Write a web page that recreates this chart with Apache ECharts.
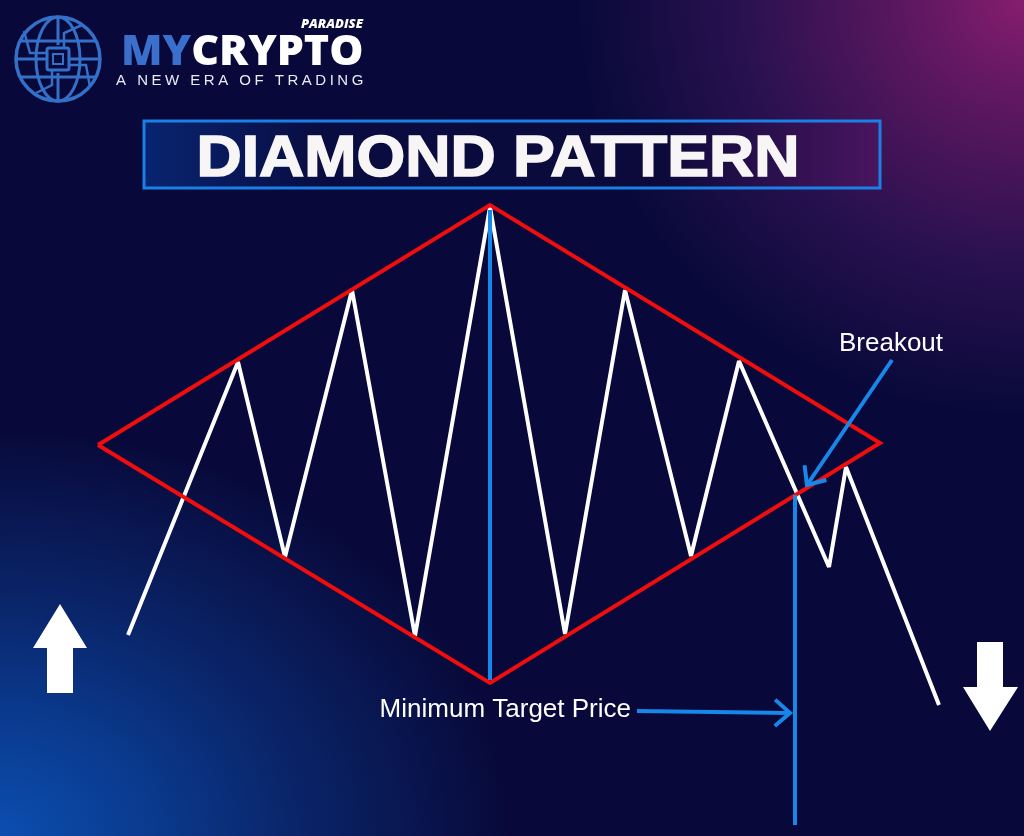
<!DOCTYPE html>
<html>
<head>
<meta charset="utf-8">
<script src="https://cdn.jsdelivr.net/npm/echarts@6/dist/echarts.min.js"></script>
<style>
html,body{margin:0;padding:0;}
body{width:1024px;height:836px;overflow:hidden;
background:
 radial-gradient(ellipse 560px 520px at 100% 0%, #861d6e 0%, #5a175f 22%, #2a1150 50%, rgba(10,10,52,0) 80%),
 radial-gradient(ellipse 600px 480px at 0% 100%, #0b4eb0 0%, #0a3a8e 25%, #0a2468 50%, rgba(8,10,58,0) 85%),
 #08093a;}
#chart{width:1024px;height:836px;}
</style>
</head>
<body>
<div id="chart"></div>
<script>
// ---- data (chart units: x = time, y = price) ----
const priceX = [128, 238, 285, 352, 415, 490, 565, 625, 691, 739, 829, 846, 939];
const priceY = [201, 474, 279, 546, 200, 629, 202, 546, 280, 475, 269, 369, 131];
const diamondX = [98, 490, 880, 490, 98];
const diamondY = [391, 631, 393, 153, 391];
const heightX = [490, 490];
const heightY = [626, 156];
const targetX = [795, 795];
const targetY = [341, 11];
const arrowLabels = ['Breakout', 'Minimum Target Price'];
const arrowFromX = [892, 637];
const arrowFromY = [476, 125];
const arrowToX = [807, 790];
const arrowToY = [351, 123];
const titleText = 'DIAMOND PATTERN';

const zip = (xs, ys) => xs.map((x, i) => [x, ys[i]]);
const arrowData = arrowLabels.map((n, i) => [arrowFromX[i], arrowFromY[i], arrowToX[i], arrowToY[i], n]);

const RED = '#f00d0d', BLUE = '#1787ea', WHITE = '#ffffff';

const chart = echarts.init(document.getElementById('chart'), null, {renderer: 'canvas'});

// tagline letter-spaced via measured characters
const ctx = document.createElement('canvas').getContext('2d');
const tagFont = '15px "Liberation Sans", Arial, sans-serif';
ctx.font = tagFont;
const tagline = 'A NEW ERA OF TRADING';
const tagEls = [];
let tx = 116;
for (const ch of tagline) {
  if (ch !== ' ') tagEls.push({type: 'text', x: tx, y: 73, style: {text: ch, font: tagFont, fill: '#e8ecf5'}, silent: true});
  tx += ctx.measureText(ch).width + 3.5;
}

// globe logo
const gcx = 58, gcy = 59, gr = 42;
const GC = '#3470c8';
const globe = [
  {type: 'circle', shape: {cx: gcx, cy: gcy, r: gr}, style: {fill: 'none', stroke: GC, lineWidth: 3.5}},
  {type: 'ellipse', shape: {cx: gcx, cy: gcy, rx: 22, ry: gr}, style: {fill: 'none', stroke: GC, lineWidth: 3}},
  {type: 'line', shape: {x1: gcx, y1: gcy - gr, x2: gcx, y2: gcy - 14}, style: {stroke: GC, lineWidth: 3}},
  {type: 'line', shape: {x1: gcx, y1: gcy + 14, x2: gcx, y2: gcy + gr}, style: {stroke: GC, lineWidth: 3}},
  {type: 'line', shape: {x1: gcx - 38, y1: gcy - 18, x2: gcx + 38, y2: gcy - 18}, style: {stroke: GC, lineWidth: 3}},
  {type: 'line', shape: {x1: gcx - 38, y1: gcy + 18, x2: gcx + 38, y2: gcy + 18}, style: {stroke: GC, lineWidth: 3}},
  {type: 'line', shape: {x1: gcx - gr, y1: gcy, x2: gcx - 12, y2: gcy}, style: {stroke: GC, lineWidth: 3}},
  {type: 'line', shape: {x1: gcx + 12, y1: gcy, x2: gcx + gr, y2: gcy}, style: {stroke: GC, lineWidth: 3}},
  {type: 'rect', shape: {x: gcx - 11, y: gcy - 11, width: 22, height: 22, r: 2}, style: {fill: '#0a0b3c', stroke: GC, lineWidth: 3}},
  {type: 'rect', shape: {x: gcx - 5, y: gcy - 5, width: 10, height: 10}, style: {fill: 'none', stroke: GC, lineWidth: 2}},
  {type: 'polyline', shape: {points: [[gcx - 11, gcy - 6], [gcx - 28, gcy - 6], [gcx - 34, gcy - 28]]}, style: {fill: 'none', stroke: GC, lineWidth: 2.5}},
  {type: 'polyline', shape: {points: [[gcx + 11, gcy + 6], [gcx + 28, gcy + 6], [gcx + 32, gcy + 28]]}, style: {fill: 'none', stroke: GC, lineWidth: 2.5}},
  {type: 'polyline', shape: {points: [[gcx + 6, gcy - 11], [gcx + 6, gcy - 26], [gcx + 24, gcy - 34]]}, style: {fill: 'none', stroke: GC, lineWidth: 2.5}},
  {type: 'polyline', shape: {points: [[gcx - 6, gcy + 11], [gcx - 6, gcy + 26], [gcx - 22, gcy + 34]]}, style: {fill: 'none', stroke: GC, lineWidth: 2.5}}
];

const titleFill = new echarts.graphic.LinearGradient(0, 0, 1, 0, [
  {offset: 0, color: '#082470'}, {offset: 0.25, color: '#090c40'}, {offset: 0.7, color: '#0b0a3a'}, {offset: 1, color: '#4a1560'}
]);

const logoFont = '800 43px "Open Sans", "Liberation Sans", sans-serif';
ctx.font = logoFont;
const myW = ctx.measureText('MY').width;

const option = {
  backgroundColor: 'transparent',
  animation: false,
  grid: {left: 0, right: 0, top: 0, bottom: 0},
  xAxis: {type: 'value', min: 0, max: 1024, show: false},
  yAxis: {type: 'value', min: 0, max: 836, show: false},
  graphic: [
    {type: 'group', children: globe, silent: true},
    {type: 'text', x: 121, y: 31, style: {text: 'MY', font: logoFont, fill: '#3a6fcb'}},
    {type: 'text', x: 121 + myW, y: 31, style: {text: 'CRYPTO', font: logoFont, fill: '#ffffff'}},
    {type: 'text', x: 363, y: 18, style: {text: 'PARADISE', font: 'italic 800 13px "Open Sans", "Liberation Sans", sans-serif', fill: '#ffffff', align: 'right'}},
    {type: 'group', children: tagEls, silent: true},
    {type: 'rect', shape: {x: 144, y: 121, width: 736, height: 67}, style: {fill: titleFill, stroke: '#1a80e6', lineWidth: 3}},
    {type: 'text', x: 498, y: 160, scaleX: 1.08, originX: 0, originY: 0,
      style: {text: titleText, font: 'bold 58px "Liberation Sans", Arial, sans-serif', fill: '#f7f5f6', stroke: '#f7f5f6', lineWidth: 1.5, align: 'center', verticalAlign: 'middle'}},
    // big up arrow
    {type: 'polygon', shape: {points: [[60, 604], [87, 648], [73, 648], [73, 693], [47, 693], [47, 648], [33, 648]]}, style: {fill: '#ffffff'}},
    // big down arrow
    {type: 'polygon', shape: {points: [[977, 642], [1003, 642], [1003, 687], [1018, 687], [990, 731], [963, 687], [977, 687]]}, style: {fill: '#ffffff'}}
  ],
  series: [
    {type: 'line', name: 'Price', data: zip(priceX, priceY), symbol: 'none', lineStyle: {color: WHITE, width: 4, join: 'bevel'}, z: 2},
    {type: 'line', name: 'Diamond', data: zip(diamondX, diamondY), symbol: 'none', lineStyle: {color: RED, width: 4, join: 'miter'}, z: 3},
    {type: 'line', name: 'Pattern height', data: zip(heightX, heightY), symbol: 'none', lineStyle: {color: BLUE, width: 4}, z: 4},
    {type: 'line', name: 'Target', data: zip(targetX, targetY), symbol: 'none', lineStyle: {color: BLUE, width: 4}, z: 4},
    {
      type: 'custom', name: 'Annotations', z: 5, data: arrowData,
      renderItem: function (params, api) {
        const p1 = api.coord([api.value(0), api.value(1)]);
        const p2 = api.coord([api.value(2), api.value(3)]);
        const ang = Math.atan2(p2[1] - p1[1], p2[0] - p1[0]);
        const L = 20, spread = 0.72;
        const a1 = [p2[0] - L * Math.cos(ang - spread), p2[1] - L * Math.sin(ang - spread)];
        const a2 = [p2[0] - L * Math.cos(ang + spread), p2[1] - L * Math.sin(ang + spread)];
        const label = arrowData[params.dataIndex][4];
        const isBreak = params.dataIndex === 0;
        return {
          type: 'group',
          children: [
            {type: 'line', shape: {x1: p1[0], y1: p1[1], x2: p2[0], y2: p2[1]}, style: {stroke: BLUE, lineWidth: 4}},
            {type: 'polyline', shape: {points: [a1, p2, a2]}, style: {stroke: BLUE, lineWidth: 4, fill: 'none'}},
            {type: 'text', x: isBreak ? p1[0] - 1 : p1[0] - 6, y: isBreak ? p1[1] - 16 : p1[1] - 1,
              style: {text: label, font: '26px "Liberation Sans", Arial, sans-serif', fill: '#ffffff',
                align: isBreak ? 'center' : 'right', verticalAlign: 'middle'}}
          ]
        };
      }
    }
  ]
};
chart.setOption(option);
</script>
</body>
</html>
